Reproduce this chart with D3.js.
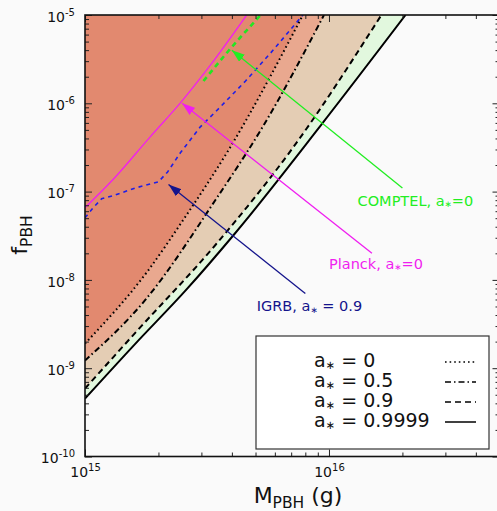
<!DOCTYPE html>
<html>
<head>
<meta charset="utf-8">
<script src="https://cdn.jsdelivr.net/npm/d3@7"></script>
<style>
  body { margin: 0; background: #fafafa; }
  svg { display: block; font-family: "DejaVu Sans", sans-serif; }
</style>
</head>
<body>
<div id="chart"></div>
<script>
// Curvas (M en g, f adimensional)
const spinLabels = ["0", "0.5", "0.9", "0.9999"];

const massA0 = [1e15, 1.80e15, 2.53e15, 3.88e15, 7.82e15];
const fracA0 = [1.9e-9, 1.24e-8, 4.8e-8, 2.97e-7, 1e-5];

const massA05 = [1e15, 1.77e15, 3.43e15, 5.35e15, 9.54e15];
const fracA05 = [1.22e-9, 5.97e-9, 8.08e-8, 5.41e-7, 1e-5];

const massA09 = [1e15, 1.61e15, 3.43e15, 7.11e15, 1.64e16];
const fracA09 = [5.88e-10, 2.53e-9, 2.5e-8, 3.13e-7, 1e-5];

const massA9999 = [1e15, 1.61e15, 2.58e15, 4.14e15, 9.36e15, 2.06e16];
const fracA9999 = [4.53e-10, 1.9e-9, 7.55e-9, 3.42e-8, 5.85e-7, 1e-5];

const massPlanck = [1e15, 1.30e15, 1.85e15, 2.46e15, 3.27e15, 4.60e15];
const fracPlanck = [6.56e-8, 1.36e-7, 4.17e-7, 1.01e-6, 2.72e-6, 1e-5];

const massIGRB = [1e15, 1.08e15, 1.17e15, 1.30e15, 1.61e15, 2.0e15, 2.18e15, 2.46e15, 2.97e15, 3.59e15, 4.55e15, 5.77e15, 7.82e15];
const fracIGRB = [5.05e-8, 6.56e-8, 8.29e-8, 8.96e-8, 1.1e-7, 1.29e-7, 1.67e-7, 2.75e-7, 5.41e-7, 9.11e-7, 1.79e-6, 3.72e-6, 1e-5];

const massComptel = [3.06e15, 3.84e15, 5.25e15];
const fracComptel = [1.79e-6, 3.81e-6, 1e-5];

// Ticks
const xMajor = [1e15, 1e16];
const xMajorExp = ["15", "16"];
const yMajor = [1e-10, 1e-9, 1e-8, 1e-7, 1e-6, 1e-5];
const yMajorExp = ["-10", "-9", "-8", "-7", "-6", "-5"];

const W = 497, H = 511;
const plot = { left: 85, right: 499.5, top: 15, bottom: 456.5 };

const svg = d3.select("#chart").append("svg")
  .attr("width", W).attr("height", H);

svg.append("rect").attr("width", W).attr("height", H).attr("fill", "#fafafa");

const x = d3.scaleLog().domain([1e15, 5e16]).range([plot.left, plot.right]);
const y = d3.scaleLog().domain([1e-10, 1e-5]).range([plot.bottom, plot.top]);

svg.append("clipPath").attr("id", "clip")
  .append("rect")
  .attr("x", plot.left).attr("y", plot.top)
  .attr("width", plot.right - plot.left).attr("height", plot.bottom - plot.top);

const g = svg.append("g").attr("clip-path", "url(#clip)");

const pairs = (ms, fs) => ms.map((m, i) => [m, fs[i]]);
const smooth = d3.line().x(d => x(d[0])).y(d => y(d[1])).curve(d3.curveMonotoneX);
const straight = d3.line().x(d => x(d[0])).y(d => y(d[1]));

// Regiones excluidas (de la más débil a la más fuerte)
const regions = [
  { m: massA9999, f: fracA9999, fill: "#e2f8de", dash: null },
  { m: massA09, f: fracA09, fill: "#e4cdb4", dash: "6,4" },
  { m: massA05, f: fracA05, fill: "#e9a88f", dash: "6,3,1.5,3" },
  { m: massA0, f: fracA0, fill: "#e2896f", dash: "1.6,3" }
];

regions.forEach(r => {
  const d = smooth(pairs(r.m, r.f)) + `L${x(1e15)},${y(1e-5)}Z`;
  g.append("path").attr("d", d).attr("fill", r.fill);
});

// Otras cotas
g.append("path")
  .attr("d", smooth(pairs(massPlanck, fracPlanck)))
  .attr("fill", "none").attr("stroke", "#f01ef0").attr("stroke-width", 1.3);

g.append("path")
  .attr("d", straight(pairs(massIGRB, fracIGRB)))
  .attr("fill", "none").attr("stroke", "#1e1ee6").attr("stroke-width", 1.6)
  .attr("stroke-dasharray", "4,4");

g.append("path")
  .attr("d", smooth(pairs(massComptel, fracComptel)))
  .attr("fill", "none").attr("stroke", "#22e622").attr("stroke-width", 2.6)
  .attr("stroke-dasharray", "5,4");

// Líneas negras de cada spin
regions.forEach(r => {
  g.append("path")
    .attr("d", smooth(pairs(r.m, r.f)))
    .attr("fill", "none").attr("stroke", "#000").attr("stroke-width", 2)
    .attr("stroke-dasharray", r.dash);
});

// Flechas
const arrows = [
  { from: [2e16, 1.1e-7], to: [4e15, 4e-6], color: "#22ee22", id: "ag" },
  { from: [1.5e16, 2e-8], to: [2.5e15, 1e-6], color: "#f01ef0", id: "am" },
  { from: [8e15, 7e-9], to: [2.2e15, 1.2e-7], color: "#14148c", id: "an" }
];

const defs = svg.append("defs");
arrows.forEach(a => {
  defs.append("marker")
    .attr("id", a.id)
    .attr("markerUnits", "userSpaceOnUse")
    .attr("markerWidth", 14).attr("markerHeight", 10)
    .attr("refX", 13).attr("refY", 4.5)
    .attr("orient", "auto")
    .append("path").attr("d", "M0,0L13,4.5L0,9Z").attr("fill", a.color);
  svg.append("line")
    .attr("x1", x(a.from[0])).attr("y1", y(a.from[1]))
    .attr("x2", x(a.to[0])).attr("y2", y(a.to[1]))
    .attr("stroke", a.color).attr("stroke-width", 1.3)
    .attr("marker-end", `url(#${a.id})`);
});

// Etiquetas de las cotas
const notes = [
  { at: [1.31e16, 6.9e-8], color: "#22ee22", pre: "COMPTEL, a", post: "=0" },
  { at: [1.0e16, 1.33e-8], color: "#f01ef0", pre: "Planck, a", post: "=0" },
  { at: [5.06e15, 4.4e-9], color: "#14148c", pre: "IGRB, a", post: " = 0.9" }
];

function spinText(sel, pre, post) {
  sel.append("tspan").text(pre);
  sel.append("tspan").attr("font-size", "0.6em").attr("dy", "0.15em").text("∗");
  sel.append("tspan").attr("dy", "-0.09em").text(post);
}

notes.forEach(n => {
  const t = svg.append("text")
    .attr("x", x(n.at[0])).attr("y", y(n.at[1]))
    .attr("fill", n.color).attr("font-size", "14.5px");
  spinText(t, n.pre, n.post);
});

// Ejes
const axes = svg.append("g").attr("stroke-width", 1);

function minorOf(scale) {
  return scale.ticks().filter(v => Math.abs(Math.log10(v) - Math.round(Math.log10(v))) > 1e-6);
}

function tidy(sel) {
  sel.select(".domain").remove();
  sel.selectAll(".tick line").attr("stroke", "#222");
}

axes.append("g").attr("transform", `translate(0,${plot.bottom})`)
  .call(d3.axisBottom(x).tickValues(minorOf(x)).tickSize(-4).tickFormat("")).call(tidy);
axes.append("g").attr("transform", `translate(0,${plot.top})`)
  .call(d3.axisTop(x).tickValues(minorOf(x)).tickSize(-4).tickFormat("")).call(tidy);
axes.append("g").attr("transform", `translate(0,${plot.top})`)
  .call(d3.axisTop(x).tickValues(xMajor).tickSize(-7).tickFormat("")).call(tidy);
axes.append("g").attr("transform", `translate(${plot.left},0)`)
  .call(d3.axisLeft(y).tickValues(minorOf(y)).tickSize(-4).tickFormat("")).call(tidy);
axes.append("g").attr("transform", `translate(${plot.right},0)`)
  .call(d3.axisRight(y).tickValues(minorOf(y)).tickSize(-4).tickFormat("")).call(tidy);
axes.append("g").attr("transform", `translate(${plot.right},0)`)
  .call(d3.axisRight(y).tickValues(yMajor).tickSize(-7).tickFormat("")).call(tidy);

const xAxis = axes.append("g").attr("transform", `translate(0,${plot.bottom})`)
  .call(d3.axisBottom(x).tickValues(xMajor).tickSize(-7).tickPadding(11)).call(tidy);
xAxis.selectAll(".tick text")
  .attr("font-size", "14px").attr("fill", "#111").attr("font-family", "DejaVu Sans")
  .each(function(d, i) {
    const t = d3.select(this).text(null);
    t.append("tspan").text("10");
    t.append("tspan").attr("font-size", "10px").attr("dy", "-6").text(xMajorExp[i]);
  });

const yAxis = axes.append("g").attr("transform", `translate(${plot.left},0)`)
  .call(d3.axisLeft(y).tickValues(yMajor).tickSize(-7).tickPadding(10)).call(tidy);
yAxis.selectAll(".tick text")
  .attr("font-size", "14px").attr("fill", "#111").attr("font-family", "DejaVu Sans")
  .attr("dy", "0.45em")
  .each(function(d, i) {
    const t = d3.select(this).text(null);
    t.append("tspan").text("10");
    t.append("tspan").attr("font-size", "10px").attr("dy", "-6").text(yMajorExp[i]);
  });

// Marco
svg.append("rect")
  .attr("x", plot.left).attr("y", plot.top)
  .attr("width", plot.right - plot.left).attr("height", plot.bottom - plot.top)
  .attr("fill", "none").attr("stroke", "#111").attr("stroke-width", 1.6);

// Títulos de ejes
const yTitle = svg.append("text")
  .attr("transform", "translate(27,235) rotate(-90)")
  .attr("text-anchor", "middle").attr("font-size", "22px").attr("fill", "#111");
yTitle.append("tspan").text("f");
yTitle.append("tspan").attr("font-size", "15.5px").attr("dy", "5").text("PBH");

const xTitle = svg.append("text")
  .attr("x", 298).attr("y", 503)
  .attr("text-anchor", "middle").attr("font-size", "22px").attr("fill", "#111");
xTitle.append("tspan").text("M");
xTitle.append("tspan").attr("font-size", "15.5px").attr("dy", "5").text("PBH");
xTitle.append("tspan").attr("dy", "-5").text(" (g)");

// Leyenda
const legend = svg.append("g");
legend.append("rect")
  .attr("x", 256).attr("y", 336).attr("width", 233).attr("height", 113)
  .attr("fill", "#ffffff").attr("stroke", "#333").attr("stroke-width", 1.2);

regions.slice().reverse().forEach((r, i) => {
  const yy = 367 + i * 20;
  const t = legend.append("text")
    .attr("x", 314).attr("y", yy)
    .attr("font-size", "19px").attr("fill", "#111");
  spinText(t, "a", " = " + spinLabels[i]);
  legend.append("line")
    .attr("x1", 445).attr("x2", 476)
    .attr("y1", yy - 5).attr("y2", yy - 5)
    .attr("stroke", "#000").attr("stroke-width", 1.5)
    .attr("stroke-dasharray", r.dash);
});
</script>
</body>
</html>
